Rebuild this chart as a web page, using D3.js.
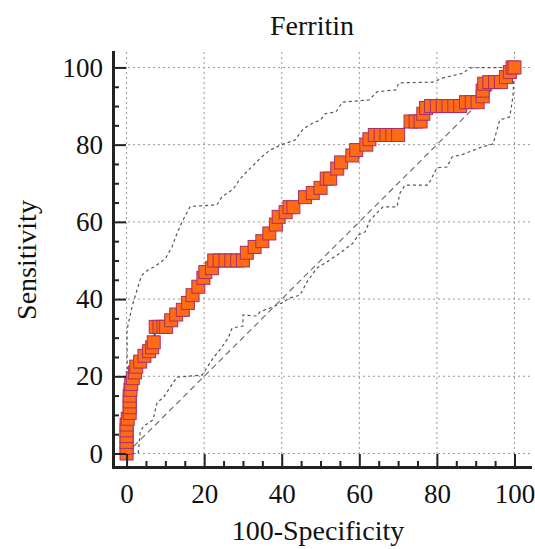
<!DOCTYPE html>
<html lang="en">
<head>
<meta charset="UTF-8">
<title>Ferritin ROC</title>
<style>
  body { margin: 0; background: #fff; }
  text { font-family: "Liberation Serif", "Times New Roman", serif; fill: #111; }
</style>
</head>
<body>
<svg id="chart" width="535" height="549"></svg>
<script src="https://cdn.jsdelivr.net/npm/d3@7"></script>
<script>
/* global d3 */

// ROC points (100-specificity, sensitivity)
var rocFpr = [0, 0, 0, 0, 0, 0, 0.3, 0.8, 0.8, 0.8, 0.8, 1, 1.2, 1.6, 2.2, 2.5, 3.5, 4.6, 5.8, 6.6, 7,
    7.5, 8.5, 9.5, 10.2, 11.5, 12.8, 14.5, 15.8, 17, 18.5, 19.8, 20.3, 22, 22.6, 24, 25.5, 27, 28.5, 30,
    31, 33, 35, 36.8, 38.5, 39.2, 41, 42, 43, 46, 48, 50, 51.6, 52.5, 54.3, 55.3, 58.2, 59.2, 61.8, 62.6,
    64, 65.5, 67, 68.5, 70, 73.2, 74.5, 75.8, 76.5, 77.2, 78.5, 80, 81.5, 83, 84.5, 86, 87.5, 89, 90.5,
    91.8, 91.8, 92.2, 93.5, 95, 96.5, 97.8, 98.8, 99.5, 100];
var rocSens = [0, 1.5, 3, 4.5, 6, 7.5, 9, 10.5, 12, 13.5, 15, 16.5, 18, 19.5, 21, 22.5, 23.8, 25.3, 26.5, 27.5, 28.8,
    32.8, 32.8, 32.8, 32.8, 34.5, 36, 37.2, 39, 41, 43.2, 45.5, 47, 48, 50, 50, 50, 50, 50, 50,
    52, 53.5, 55, 57, 59.3, 61.3, 62.5, 63.8, 63.8, 66.4, 67.5, 68.8, 71.2, 71.2, 73.8, 75.4, 77.2, 78.6, 80, 81.4,
    82.5, 82.5, 82.5, 82.5, 82.5, 86, 86, 86, 88, 89.5, 90, 90, 90, 90, 90, 90, 91, 91, 91,
    92.5, 94, 95.8, 96.2, 96.2, 96.2, 97.5, 98.8, 100, 100];

// 95% confidence bounds
var upperX = [0, 0.2, 0.1, 1.4, 3.5, 4, 5.5, 7.4, 10, 11.7, 13, 14.3, 16.4, 23.3, 24.6, 27.5, 29, 30.5, 33, 35,
    37, 40, 43.4, 45.5, 47.8, 50, 51.2, 54, 55.6, 62.5, 64.6, 69.4, 70.2, 79, 81.6, 86.7, 88.5, 98, 100];
var upperY = [0, 20, 32, 38, 45, 46.2, 47.5, 48.5, 50.5, 53.5, 57, 60, 64, 64.4, 66.5, 68.5, 70.8, 72.5, 75, 77,
    78.6, 80, 81.2, 84, 85.5, 86.4, 88, 88.5, 91, 91.6, 93.7, 94.2, 96, 96.2, 97.3, 98.5, 99.9, 100, 100];
var lowerX = [0, 3, 3.5, 4.3, 6.8, 7.9, 9.4, 13, 19.5, 22.3, 24, 26.2, 27.2, 30, 30, 33.6, 34.4, 37.8, 40, 42.1,
    44.7, 46.5, 49, 51.6, 55, 58.4, 59.7, 61.5, 62.8, 66.1, 69.7, 70.5, 71.8, 77.7, 79, 80, 82.6, 83.9, 86.7,
    91.6, 94.5, 96.2, 98.8, 99.6, 100];
var lowerY = [0, 0, 5.5, 7, 8.7, 13.3, 14.4, 19.8, 20.3, 24.7, 26.8, 29.9, 32.5, 33, 35.9, 35.6, 36.7, 38, 39, 40.3,
    41, 44.4, 48, 49.6, 51.9, 54.5, 56.6, 57.4, 60.5, 63.9, 63.9, 67.5, 69.5, 69.5, 72, 74, 74.2, 76.8, 77.5,
    79.4, 80.2, 86.4, 87.2, 92.5, 100];

var majorTicks = [0, 20, 40, 60, 80, 100];
var minorTicks = [5, 10, 15, 25, 30, 35, 45, 50, 55, 65, 70, 75, 85, 90, 95];

var svg = d3.select("#chart");

var x = d3.scaleLinear().domain([-3.5, 104]).range([113, 530]);
var y = d3.scaleLinear().domain([-3.5, 104]).range([467, 52]);

// grid
var grid = svg.append("g")
    .attr("stroke", "#9a9a9a")
    .attr("stroke-width", 1)
    .attr("stroke-dasharray", "2,3");
majorTicks.forEach(function(t) {
    grid.append("line").attr("x1", x(t)).attr("x2", x(t)).attr("y1", y.range()[1]).attr("y2", y.range()[0]);
    grid.append("line").attr("y1", y(t)).attr("y2", y(t)).attr("x1", x.range()[0]).attr("x2", x.range()[1]);
});

// reference diagonal
svg.append("line")
    .attr("x1", x(0)).attr("y1", y(0)).attr("x2", x(100)).attr("y2", y(100))
    .attr("stroke", "#666").attr("stroke-width", 1.1).attr("stroke-dasharray", "6,4");

// confidence bounds
var bandLine = d3.line().x(function(d) { return x(d[0]); }).y(function(d) { return y(d[1]); });
[[upperX, upperY], [lowerX, lowerY]].forEach(function(b) {
    svg.append("path")
        .attr("d", bandLine(d3.zip(b[0], b[1])))
        .attr("fill", "none")
        .attr("stroke", "#555")
        .attr("stroke-width", 1.2)
        .attr("stroke-dasharray", "3,3");
});

// ROC line and markers
var roc = d3.zip(rocFpr, rocSens);
svg.append("path")
    .attr("d", bandLine(roc))
    .attr("fill", "none")
    .attr("stroke", "#2233aa")
    .attr("stroke-width", 2);

var size = 13;
svg.append("g").selectAll("rect")
    .data(roc)
    .join("rect")
    .attr("x", function(d) { return x(d[0]) - size / 2; })
    .attr("y", function(d) { return y(d[1]) - size / 2; })
    .attr("width", size)
    .attr("height", size)
    .attr("fill", "#ff6a14")
    .attr("stroke", "#a8306a")
    .attr("stroke-width", 1);

// axes
var xMinor = d3.axisBottom(x).tickValues(minorTicks).tickSize(-6).tickSizeOuter(0).tickFormat("");
var yMinor = d3.axisLeft(y).tickValues(minorTicks).tickSize(-6).tickSizeOuter(0).tickFormat("");
var xMajor = d3.axisBottom(x).tickValues(majorTicks).tickSize(-13).tickSizeOuter(0).tickPadding(17);
var yMajor = d3.axisLeft(y).tickValues(majorTicks).tickSize(-13).tickSizeOuter(0).tickPadding(10);

function styleAxis(g) {
    g.select(".domain").attr("stroke", "#222").attr("stroke-width", 3).attr("stroke-linecap", "square");
    g.selectAll(".tick line").attr("stroke", "#222").attr("stroke-width", 2);
    g.selectAll(".tick text")
        .attr("font-family", "Liberation Serif, Times New Roman, serif")
        .attr("font-size", 27).attr("fill", "#111");
}

svg.append("g").attr("transform", "translate(0,467)").call(xMinor).call(styleAxis);
svg.append("g").attr("transform", "translate(113,0)").call(yMinor).call(styleAxis);
svg.append("g").attr("transform", "translate(0,467)").call(xMajor).call(styleAxis);
svg.append("g").attr("transform", "translate(113,0)").call(yMajor).call(styleAxis);

// titles
svg.append("text").attr("x", 312).attr("y", 35).attr("text-anchor", "middle")
    .attr("font-size", 28).text("Ferritin");
svg.append("text").attr("x", 318).attr("y", 540).attr("text-anchor", "middle")
    .attr("font-size", 28).text("100-Specificity");
svg.append("text").attr("transform", "translate(36,260) rotate(-90)").attr("text-anchor", "middle")
    .attr("font-size", 28).text("Sensitivity");
</script>
</body>
</html>
